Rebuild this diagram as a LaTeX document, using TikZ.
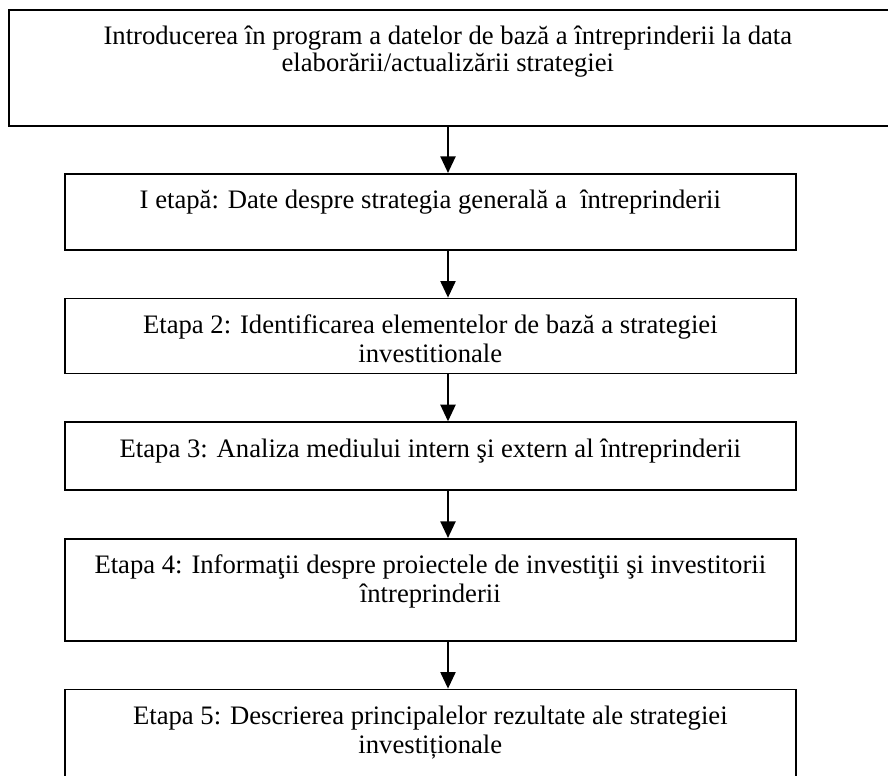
\documentclass[tikz,border=0pt]{standalone}
\usepackage{fontspec}
\setmainfont{Liberation Serif}
\usetikzlibrary{positioning, arrows.meta}
\tikzset{
  stepbox/.style={draw, line width=1pt, inner sep=0pt},
  flow/.style={-{Triangle[length=10pt,width=9pt]}, line width=1.4pt},
}
\newcommand{\steptext}[3]{\parbox[c][#1][t]{#2}{\centering\lineskiplimit=-\maxdimen\rule{0pt}{21pt}#3\par}}

\begin{document}
\begin{tikzpicture}
  \fontsize{16pt}{17.4pt}\selectfont
  \useasboundingbox (0,0) rectangle (532.8pt,-465.6pt);
  \clip (0,0) rectangle (532.8pt,-465.6pt);
  \node[stepbox, anchor=north west] (Intro) at (4.8pt,-5.4pt) {\steptext{69.6pt}{526.8pt}{\baselineskip=16pt Introducerea în program a datelor de bază a întreprinderii la data\\elaborării/actualizării strategiei}\hspace*{6pt}};
  \node[stepbox, anchor=north west] (Gen) at (38.4pt,-103.8pt) {\steptext{45.6pt}{438.6pt}{I etapă: Date despre strategia generală a~ întreprinderii}};
  \node[stepbox, below=28.2pt of Gen] (Elem) {\steptext{45pt}{438.6pt}{Etapa 2: Identificarea elementelor de bază a strategiei\\investitionale}};
  \node[stepbox, below=28.2pt of Elem] (Med) {\steptext{40.8pt}{438.6pt}{Etapa 3: Analiza mediului intern şi extern al întreprinderii}};
  \node[stepbox, below=28.2pt of Med] (Proj) {\steptext{61.2pt}{438.6pt}{Etapa 4: Informaţii despre proiectele de investiţii şi investitorii\\întreprinderii}};
  \node[stepbox, below=28.2pt of Proj] (Rez) {\steptext{60pt}{438.6pt}{Etapa 5: Descrierea principalelor rezultate ale strategiei\\investiționale}};
  \coordinate (axis) at (268.8pt,0);

  \draw[flow] (Intro.south -| axis) -- (Gen.north -| axis);
  \draw[flow] (Gen.south -| axis) -- (Elem.north -| axis);
  \draw[flow] (Elem.south -| axis) -- (Med.north -| axis);
  \draw[flow] (Med.south -| axis) -- (Proj.north -| axis);
  \draw[flow] (Proj.south -| axis) -- (Rez.north -| axis);
\end{tikzpicture}
\end{document}
